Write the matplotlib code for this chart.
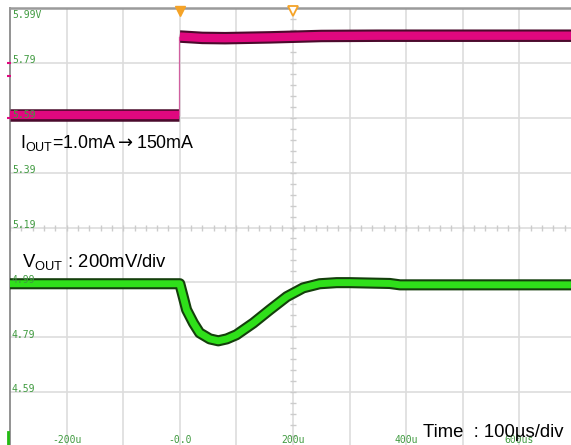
import matplotlib.pyplot as plt

plt.rcParams['font.family'] = ['Liberation Sans', 'DejaVu Sans']
plt.rcParams['mathtext.fontset'] = 'dejavusans'

# scope screen: 10 div x 100us, 8 div x 200mV
t_min, t_max = -300, 700
v_min, v_max = 4.39, 5.99

# input step (magenta)
vin_t_low = [-300, -200, -100, -1]
vin_low = [5.600, 5.600, 5.600, 5.600]
vin_t_high = [0, 40, 80, 160, 250, 350, 500, 700]
vin_high = [5.886, 5.881, 5.880, 5.883, 5.888, 5.889, 5.889, 5.889]

# output response (green)
vout_t = [-300, -200, -100, 0, 6, 12, 24, 35, 53, 68, 83, 100, 130, 159, 189,
          218, 247, 277, 300, 371, 389, 477, 600, 700]
vout = [4.985, 4.985, 4.985, 4.985, 4.938, 4.890, 4.842, 4.806, 4.784, 4.777,
        4.784, 4.799, 4.842, 4.890, 4.938, 4.970, 4.985, 4.989, 4.989, 4.986,
        4.981, 4.981, 4.981, 4.981]

grid_t = [-200, -100, 0, 100, 200, 300, 400, 500, 600]
grid_v = [5.79, 5.59, 5.39, 5.19, 4.99, 4.79, 4.59]
ylabels = ['5.99V', '5.79', '5.59', '5.39', '5.19', '4.99', '4.79', '4.59']
ylabel_pos = [5.964, 5.80, 5.60, 5.40, 5.20, 5.00, 4.80, 4.60]
xlabels = ['-200u', '-0.0', '200u', '400u', '600us']
xlabel_pos = [-200, 0, 200, 400, 600]

fig = plt.figure(figsize=(5.71, 4.45), dpi=100)
ax = fig.add_axes([10 / 571, -2 / 445, 566 / 571, 439 / 445])
ax.set_xlim(t_min, t_max)
ax.set_ylim(v_min, v_max)

for t in grid_t:
    ax.axvline(t, color='#dddddd', lw=1.2, zorder=0)
for v in grid_v:
    ax.axhline(v, color='#dddddd', lw=1.2, zorder=0)

# center axis minor ticks
tick_t = [t_min + 20 * i for i in range(51)]
tick_v = [v_min + 0.04 * i for i in range(41)]
ax.plot(tick_t, [5.19] * len(tick_t), ls='none', marker='|', ms=4,
        color='#cccccc', zorder=0)
ax.plot([200] * len(tick_v), tick_v, ls='none', marker='_', ms=4,
        color='#cccccc', zorder=0)

ax.set_xticks([])
ax.set_yticks([])
for s in ['right', 'bottom']:
    ax.spines[s].set_visible(False)
ax.spines['left'].set_color('#8a8a8a')
ax.spines['left'].set_linewidth(1.3)
ax.spines['top'].set_color('#9a9a9a')
ax.spines['top'].set_linewidth(1.8)

# magenta trace
for tt, vv in [(vin_t_low, vin_low), (vin_t_high, vin_high)]:
    ax.plot(tt, vv, color='#4a0a2c', lw=9, solid_capstyle='butt', zorder=3)
    ax.plot(tt, vv, color='#e0087f', lw=6, solid_capstyle='butt', zorder=4)
ax.plot([-1, -1], [vin_low[-1], vin_high[0]], color='#d060a0', lw=0.9, zorder=3)

# green trace
ax.plot(vout_t, vout, color='#143f0c', lw=8, solid_joinstyle='round',
        solid_capstyle='butt', zorder=3)
ax.plot(vout_t, vout, color='#2fe01a', lw=5, solid_joinstyle='round',
        solid_capstyle='butt', zorder=4)

# trigger markers
ax.plot([0], [5.979], marker='v', ms=7, color='#f5a327', clip_on=False, zorder=6)
ax.plot([200], [5.979], marker='v', ms=7, mfc='white', mec='#f5a327', mew=1.3,
        clip_on=False, zorder=6)

# channel markers on left edge
ax.plot([-302] * 3, [5.79, 5.742, 5.59], ls='none', marker='_', ms=2.5,
        mew=1.5, color='#e0087f', clip_on=False, zorder=6)
ax.plot([-304, -304], [4.39, 4.445], color='#22bb11', lw=2, clip_on=False, zorder=6)

for lab, v in zip(ylabels, ylabel_pos):
    ax.text(-296.5, v, lab, family='DejaVu Sans Mono', fontsize=7,
            color='#3f9a3f', va='center', ha='left', zorder=5)
for lab, t in zip(xlabels, xlabel_pos):
    ax.text(t, 4.414, lab, family='DejaVu Sans Mono', fontsize=7,
            color='#3f9a3f', va='center', ha='center', zorder=5)

ax.text(-282.3, 5.480, r'$\mathregular{I_{OUT}}$=1.0mA$\rightarrow$150mA',
        fontsize=12.9, va='baseline', ha='left', zorder=7)
ax.text(-278.8, 5.046, r'$\mathregular{V_{OUT}}$ : 200mV/div', fontsize=13.3,
        va='baseline', ha='left', zorder=7)
ax.text(429.7, 4.427, 'Time  : 100µs/div', fontsize=13.3,
        va='baseline', ha='left', zorder=7)

fig.savefig('out.png', dpi=100)
